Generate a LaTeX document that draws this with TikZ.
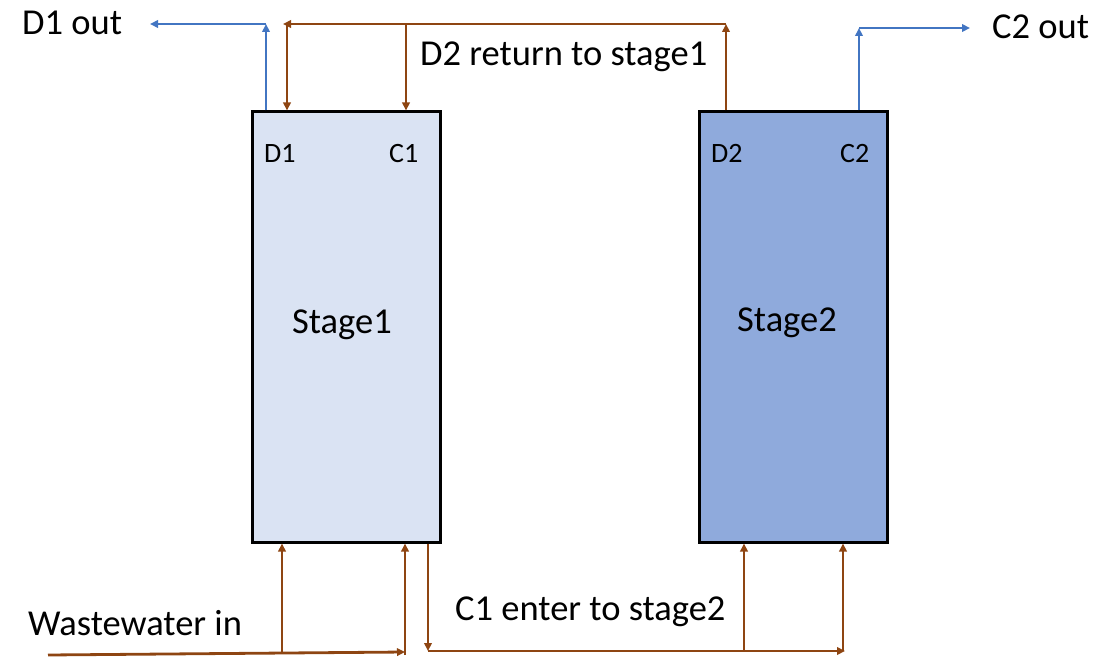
\documentclass[tikz,border=0pt]{standalone}
\usepackage{fontspec}
\setmainfont{Carlito}
\usetikzlibrary{arrows.meta}
\definecolor{flowbrown}{HTML}{8E4512}
\definecolor{flowblue}{HTML}{4275C2}
\definecolor{stageonefill}{HTML}{DAE3F3}
\definecolor{stagetwofill}{HTML}{8FAADC}
\tikzset{
  stagebox/.style={draw=black, line width=3pt, minimum width=188pt, minimum height=430pt, inner sep=0pt},
  lbl/.style={anchor=base west, inner sep=0pt, font=\fontsize{36.5}{42}\selectfont},
  portlbl/.style={anchor=base west, inner sep=0pt, font=\fontsize{28}{32}\selectfont},
  tip/.style={-{Triangle[length=8pt,width=7.5pt]}},
  brownflow/.style={draw=flowbrown, line width=2.8pt, tip},
  blueflow/.style={draw=flowblue, line width=2.8pt, tip},
}
\begin{document}
\begin{tikzpicture}[x=1pt,y=-1pt]
\useasboundingbox (0,0) rectangle (1111,658);

% the two stages
\node[stagebox, fill=stageonefill] (s1) at (346,327) {};
\node[stagebox, fill=stagetwofill] (s2) at (793,327) {};

\node[lbl] (st1) at (292,333) {Stage1};
\node[lbl] (st2) at (737,331) {Stage2};
\node[portlbl] (pd1) at (264,163) {D1};
\node[portlbl] (pc1) at (389,163) {C1};
\node[portlbl] (pd2) at (711,163) {D2};
\node[portlbl] (pc2) at (840,163) {C2};

% stream labels
\node[lbl] (d1out) at (22,35) {D1 out};
\node[lbl] (ret) at (420,66) {D2 return to stage1};
\node[lbl] (c2out) at (992,39) {C2 out};
\node[lbl] (win) at (28,635) {Wastewater in};
\node[lbl] (c1in) at (455,620) {C1 enter to stage2};

% corner points of the pipes
\coordinate (d1top) at (266,24);
\coordinate (d1end) at (150,24);
\coordinate (rtR) at (726,24);
\coordinate (rtL) at (283,24);
\coordinate (rtA) at (287,24);
\coordinate (rtB) at (406,24);
\coordinate (c2top) at (859,28);
\coordinate (c2end) at (970,28);
\coordinate (wwstart) at (48,655);
\coordinate (wwend) at (405,652);
\coordinate (wwA) at (282,653);
\coordinate (wwB) at (405,655);
\coordinate (c1down) at (428,651);
\coordinate (c1end) at (845,651);
\coordinate (c1A) at (744,651);
\coordinate (c1B) at (843,651);

% D1 out
\draw[blueflow] (s1.north -| d1top) -- (d1top);
\draw[blueflow] (d1top) -- (d1end);

% D2 returned to stage 1
\draw[brownflow] (s2.north -| rtR) -- (rtR);
\draw[brownflow] (rtR) -- (rtL);
\draw[brownflow] (rtA) -- (s1.north -| rtA);
\draw[brownflow] (rtB) -- (s1.north -| rtB);

% C2 out
\draw[blueflow] (s2.north -| c2top) -- (c2top);
\draw[blueflow] (c2top) -- (c2end);

% wastewater feed
\draw[brownflow] (wwstart) -- (wwend);
\draw[brownflow] (wwA) -- (s1.south -| wwA);
\draw[brownflow] (wwB) -- (s1.south -| wwB);

% C1 passed to stage 2
\draw[brownflow] (s1.south -| c1down) -- (c1down);
\draw[brownflow] (c1down) -- (c1end);
\draw[brownflow] (c1A) -- (s2.south -| c1A);
\draw[brownflow] (c1B) -- (s2.south -| c1B);
\end{tikzpicture}
\end{document}
